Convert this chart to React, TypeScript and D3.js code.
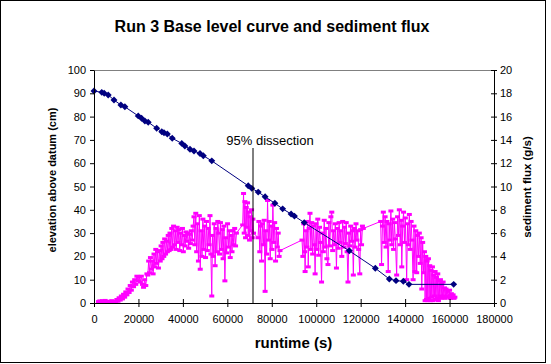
import * as d3 from "d3";
import { useEffect, useRef } from "react";

// ---- axis ticks ----
const timeTicks = [0, 20000, 40000, 60000, 80000, 100000, 120000, 140000, 160000, 180000];
const elevTicks = [0, 10, 20, 30, 40, 50, 60, 70, 80, 90, 100];
const fluxTicks = [0, 2, 4, 6, 8, 10, 12, 14, 16, 18, 20];

// ---- base level curve: [runtime s, elevation cm] ----
const elevation: [number, number][] = [
  [0, 91], [3500, 90.4], [4600, 90], [6400, 89.3], [9000, 87.1], [12100, 85], [13900, 84.2],
  [19900, 80.3], [21400, 79.3], [22900, 78.1], [24400, 77.6], [28200, 75], [30500, 73.5],
  [31500, 73.1], [33000, 72.5], [35200, 70.7], [39500, 68.5], [40900, 67.4], [43200, 66],
  [45000, 65.2], [47700, 64.2], [49200, 63.2], [53000, 61], [69400, 50.3], [71000, 49.2],
  [73900, 47.6], [77000, 45.6], [81400, 42.8], [84900, 40.4], [88700, 38.2], [90200, 37.3],
  [94600, 34.5], [114900, 22.4], [126600, 14.9], [132900, 10.3], [135900, 9.6], [139200, 9.3],
  [141750, 8], [161850, 8],
];

// ---- sediment flux: [runtime s, flux g/s] ----
const fluxStartup: [number, number][] = [
  [2000, 0.12], [2600, 0.18], [3200, 0.1], [3800, 0.2], [4400, 0.08], [5000, 0.22], [5600, 0.12],
  [6200, 0.05], [6800, 0.15], [7400, 0.1], [8000, 0.2], [8600, 0.06], [9200, 0.14],
];
const fluxRise: [number, number][] = [
  [9800, 0.1], [10300, 0.3], [10800, 0.15], [11300, 0.45], [11800, 0.25], [12300, 0.6], [12800, 0.35],
  [13300, 0.75], [13800, 0.5], [14300, 0.95], [14800, 0.7], [15300, 1.2], [15800, 0.9], [16300, 1.5],
  [16800, 1.1], [17300, 1.8], [17800, 1.4], [18300, 2.0], [18800, 1.6], [19300, 2.3], [19800, 1.9],
  [20300, 2.25], [20800, 1.8], [21300, 2.3], [21800, 1.6], [22300, 1.35], [22800, 2.0], [23300, 1.5],
  [23800, 2.5],
];
const fluxGrowth: [number, number][] = [
  [24200, 2.4], [24600, 3.6], [25000, 2.6], [25400, 3.9], [25800, 2.9], [26200, 3.6], [26600, 2.5],
  [27000, 4.2], [27400, 3.1], [27800, 4.6], [28200, 3.4], [28600, 4.4], [29000, 3.0], [29400, 4.5],
  [29800, 3.6], [30200, 4.9], [30600, 3.8], [31000, 5.2], [31400, 4.0], [31800, 5.5], [32200, 4.2],
  [32600, 5.3], [33000, 4.4], [33400, 5.8], [33800, 4.5], [34200, 6.0], [34600, 4.6], [35000, 6.4],
  [35400, 4.8], [35800, 6.6], [36200, 5.0], [36600, 6.2], [37000, 4.6], [37400, 6.5], [37800, 5.2],
  [38200, 6.3], [38600, 4.5], [39000, 6.0], [39400, 5.0], [39800, 6.4], [40200, 4.4], [40600, 5.8],
  [41000, 4.9], [41400, 6.1], [41800, 5.3], [42200, 6.0], [42600, 4.7], [43000, 5.9], [43400, 5.1],
  [43800, 6.2], [44200, 5.4], [44600, 6.6],
];
const fluxEarlyPeak: [number, number][] = [
  [45000, 7.4], [45400, 5.0], [45800, 7.7], [46200, 4.4], [46600, 6.8], [47000, 3.6], [47400, 7.5],
  [47800, 2.9], [48200, 6.2], [48600, 4.0], [49000, 7.2], [49400, 4.6], [49800, 6.6], [50200, 3.9],
  [50600, 7.0], [51000, 4.5], [51400, 6.4], [51800, 5.0], [52200, 7.5], [52600, 4.2], [53000, 0.6],
  [53300, 5.8], [53700, 4.0], [54100, 6.8], [54500, 3.2], [54900, 6.4], [55300, 4.4], [55700, 7.0],
  [56100, 6.0], [56500, 4.2], [56900, 6.9], [57300, 4.6], [57700, 6.3], [58100, 3.8], [58500, 6.6],
  [58900, 1.9], [59300, 5.6], [59700, 4.3], [60100, 6.8], [60500, 4.8], [60900, 6.2], [61300, 3.9],
  [61700, 5.8], [62100, 4.4], [62500, 6.2], [62900, 5.0], [63300, 6.4], [63700, 4.9], [64100, 6.0],
];
const fluxDissection: [number, number][] = [
  [66900, 6.7], [67300, 9.4], [67600, 6.0], [67900, 8.7], [68200, 5.6], [68500, 8.2], [68800, 6.5],
  [69100, 8.6], [69400, 5.8], [69700, 7.8], [70000, 5.4], [70300, 7.4], [70600, 6.2], [70900, 8.0],
  [71200, 5.6], [71500, 7.2], [71800, 6.0], [73800, 5.6], [74200, 7.0], [74600, 4.4], [75000, 6.6],
  [75400, 3.6], [75800, 6.8], [76200, 5.0], [76600, 7.1], [77000, 1.0], [77300, 6.2], [77700, 4.2],
  [78100, 8.8], [78500, 5.4], [78900, 7.0], [79300, 3.8], [79700, 6.6], [80100, 4.6], [80500, 8.4],
  [80900, 5.2], [81300, 6.9], [81700, 3.6], [82100, 6.4], [82500, 4.8], [82900, 6.0], [83300, 4.0],
  [83700, 4.5],
];
const fluxMiddle: [number, number][] = [
  [93600, 5.4], [94000, 4.0], [94400, 6.8], [94800, 4.4], [95000, 2.7], [95400, 6.2], [95800, 4.8],
  [96200, 7.0], [96400, 3.1], [96800, 6.4], [97200, 7.7], [97600, 4.6], [98000, 6.9], [98400, 4.2],
  [98800, 6.6], [99200, 5.0], [99500, 2.5], [99900, 6.8], [100300, 4.6], [100700, 7.2], [101100, 4.1],
  [101500, 6.5], [101900, 5.2], [102400, 1.8], [102800, 6.0], [103200, 4.4], [103600, 7.1], [104000, 4.8],
  [104400, 6.4], [104800, 3.8], [105300, 3.3], [105700, 6.9], [106100, 4.9], [106600, 7.4], [107000, 7.8],
  [107400, 4.5], [107800, 6.2], [108200, 5.0], [108600, 6.8], [109100, 3.0], [109500, 6.4], [109900, 4.7],
  [110300, 6.9], [110700, 5.2], [111100, 6.2], [111500, 4.0], [111900, 7.0], [112300, 4.8], [112700, 6.5],
  [113100, 5.1], [113500, 6.9], [113900, 4.4], [114300, 1.8], [114700, 6.0], [115100, 4.9], [115500, 6.6],
  [115900, 5.3], [116300, 6.2], [116700, 2.4], [117100, 6.4], [117500, 4.8], [117900, 6.8], [118300, 5.4],
  [118700, 6.2], [119100, 4.6], [119600, 2.5], [120000, 6.3], [120400, 5.0], [120800, 6.6], [121200, 6.4],
];
const fluxLate: [number, number][] = [
  [129000, 7.0], [129400, 3.3], [129800, 6.6], [130200, 7.8], [130600, 5.2], [131000, 7.4], [131400, 4.8],
  [131800, 7.0], [132400, 2.7], [132800, 6.8], [133200, 5.4], [133600, 7.9], [134000, 5.0], [134400, 7.2],
  [134800, 4.6], [135200, 6.9], [135600, 5.5], [136200, 2.4], [136600, 7.4], [137000, 5.8], [137400, 8.0],
  [137800, 5.0], [138200, 7.1], [138500, 3.1], [138900, 6.6], [139300, 7.8], [139700, 5.2], [140100, 7.3],
  [140700, 2.0], [141100, 6.8], [141500, 5.0], [141900, 7.6], [142300, 4.6], [142700, 7.0], [143100, 5.4],
  [143600, 2.0], [144000, 6.6], [144400, 2.7], [144800, 6.2], [145200, 2.6], [145600, 5.8], [146000, 4.0],
  [146400, 6.0], [146800, 3.4], [147200, 5.6], [147500, 1.2], [147900, 5.2], [148300, 2.6], [148700, 4.4],
  [149000, 0.2],
];
const fluxTail: [number, number][] = [
  [149300, 4.0], [149600, 0.3], [149900, 3.6], [150200, 0.2], [150500, 3.8], [150800, 0.4], [151100, 3.2],
  [151400, 0.2], [151700, 2.8], [152000, 0.5], [152300, 3.1], [152600, 0.2], [152900, 2.4], [153200, 0.6],
  [153500, 2.7], [153800, 0.3], [154100, 2.2], [154400, 0.4], [154700, 2.5], [155000, 0.2], [155300, 1.9],
  [155600, 0.6], [155900, 2.0], [156200, 0.4], [156500, 1.6], [156800, 0.5], [157100, 1.8], [157400, 0.6],
  [157700, 1.3], [158000, 0.4], [158400, 1.2], [158800, 0.5], [159200, 1.0], [159600, 0.6], [160000, 1.1],
  [160400, 0.4], [160800, 0.8], [161200, 0.5], [161600, 0.7], [162000, 0.4], [162400, 0.5],
];

const dissectionTime = 71550;

export default function App() {
  const svgRef = useRef<SVGSVGElement | null>(null);

  useEffect(() => {
    const width = 551;
    const height = 364;
    const margin = { top: 70, right: 57, bottom: 61, left: 94 };
    const font = "'Liberation Sans', Arial, sans-serif";

    const svg = d3.select(svgRef.current);
    svg.selectAll("*").remove();

    const innerW = width - margin.left - margin.right;
    const innerH = height - margin.top - margin.bottom;

    const x = d3.scaleLinear().domain([0, 180000]).range([0, innerW]);
    const yElev = d3.scaleLinear().domain([0, 100]).range([innerH, 0]);
    const yFlux = d3.scaleLinear().domain([0, 20]).range([innerH, 0]);

    // frame
    svg.append("rect").attr("width", width).attr("height", height).attr("fill", "#fff");
    svg.append("rect")
      .attr("x", 0.5).attr("y", 0.5).attr("width", 545).attr("height", 362)
      .attr("fill", "none").attr("stroke", "#000");

    // title
    svg.append("text")
      .attr("x", 272).attr("y", 32)
      .attr("text-anchor", "middle")
      .attr("font-family", font).attr("font-size", 16).attr("font-weight", 700)
      .text("Run 3 Base level curve and sediment flux");

    const g = svg.append("g").attr("transform", `translate(${margin.left},${margin.top})`);

    // top border of plot area
    g.append("line")
      .attr("x1", 0).attr("x2", innerW).attr("y1", 0.5).attr("y2", 0.5)
      .attr("stroke", "#808080");

    // flux series (right axis)
    const fluxAll = [
      ...fluxStartup, ...fluxRise, ...fluxGrowth, ...fluxEarlyPeak,
      ...fluxDissection, ...fluxMiddle, ...fluxLate, ...fluxTail,
    ];
    const fluxLine = d3.line<[number, number]>().x((d) => x(d[0])).y((d) => yFlux(d[1]));
    g.append("path")
      .datum(fluxAll)
      .attr("d", fluxLine)
      .attr("fill", "none")
      .attr("stroke", "#ff00ff")
      .attr("stroke-width", 1);
    g.append("g")
      .selectAll("rect")
      .data(fluxAll)
      .join("rect")
      .attr("x", (d) => x(d[0]) - 2.5)
      .attr("y", (d) => yFlux(d[1]) - 1.5)
      .attr("width", 5)
      .attr("height", 3)
      .attr("fill", "#ff00ff");

    // elevation series (left axis)
    const elevLine = d3.line<[number, number]>().x((d) => x(d[0])).y((d) => yElev(d[1]));
    g.append("path")
      .datum(elevation)
      .attr("d", elevLine)
      .attr("fill", "none")
      .attr("stroke", "#000080")
      .attr("stroke-width", 1);
    const diamond = d3.symbol().type(d3.symbolSquare).size(24);
    g.append("g")
      .selectAll("path")
      .data(elevation)
      .join("path")
      .attr("d", diamond)
      .attr("transform", (d) => `translate(${x(d[0])},${yElev(d[1])}) rotate(45)`)
      .attr("fill", "#000080");

    // 95% dissection marker
    g.append("line")
      .attr("x1", x(dissectionTime)).attr("x2", x(dissectionTime))
      .attr("y1", innerH).attr("y2", 78)
      .attr("stroke", "#000").attr("stroke-width", 1);
    g.append("text")
      .attr("x", x(dissectionTime) + 17).attr("y", 75)
      .attr("text-anchor", "middle")
      .attr("font-family", font).attr("font-size", 13)
      .text("95% dissection");

    // axes
    const styleAxis = (sel: any) => {
      sel.select(".domain").attr("stroke", "#000");
      sel.selectAll(".tick line").attr("stroke", "#000");
      sel.selectAll(".tick text").attr("fill", "#000").attr("font-family", font).attr("font-size", 11);
    };

    g.append("g")
      .attr("transform", `translate(0,${innerH})`)
      .call(d3.axisBottom(x).tickValues(timeTicks).tickFormat(d3.format("d")).tickSizeInner(4).tickSizeOuter(0).tickPadding(8))
      .call(styleAxis)
      .call((a: any) => a.selectAll(".tick line").attr("y1", -4).attr("y2", 4));

    g.append("g")
      .call(d3.axisLeft(yElev).tickValues(elevTicks).tickSizeInner(4).tickSizeOuter(0).tickPadding(4))
      .call(styleAxis);

    g.append("g")
      .attr("transform", `translate(${innerW},0)`)
      .call(d3.axisRight(yFlux).tickValues(fluxTicks).tickSizeInner(3).tickSizeOuter(0).tickPadding(3))
      .call(styleAxis)
      .call((a: any) => a.selectAll(".tick line").attr("x1", -3).attr("x2", 3));

    // axis titles
    svg.append("text")
      .attr("x", 293.5).attr("y", 348)
      .attr("text-anchor", "middle")
      .attr("font-family", font).attr("font-size", 15).attr("font-weight", 700)
      .text("runtime (s)");
    svg.append("text")
      .attr("transform", "translate(55.5,180) rotate(-90)")
      .attr("text-anchor", "middle")
      .attr("font-family", font).attr("font-size", 11).attr("font-weight", 700)
      .text("elevation above datum (cm)");
    svg.append("text")
      .attr("transform", "translate(531,187) rotate(-90)")
      .attr("text-anchor", "middle")
      .attr("font-family", font).attr("font-size", 11.5).attr("font-weight", 700)
      .text("sediment flux (g/s)");
  }, []);

  return (
    <svg
      ref={svgRef}
      width={551}
      height={364}
      style={{ position: "absolute", left: 0, top: 0, display: "block" }}
    />
  );
}
